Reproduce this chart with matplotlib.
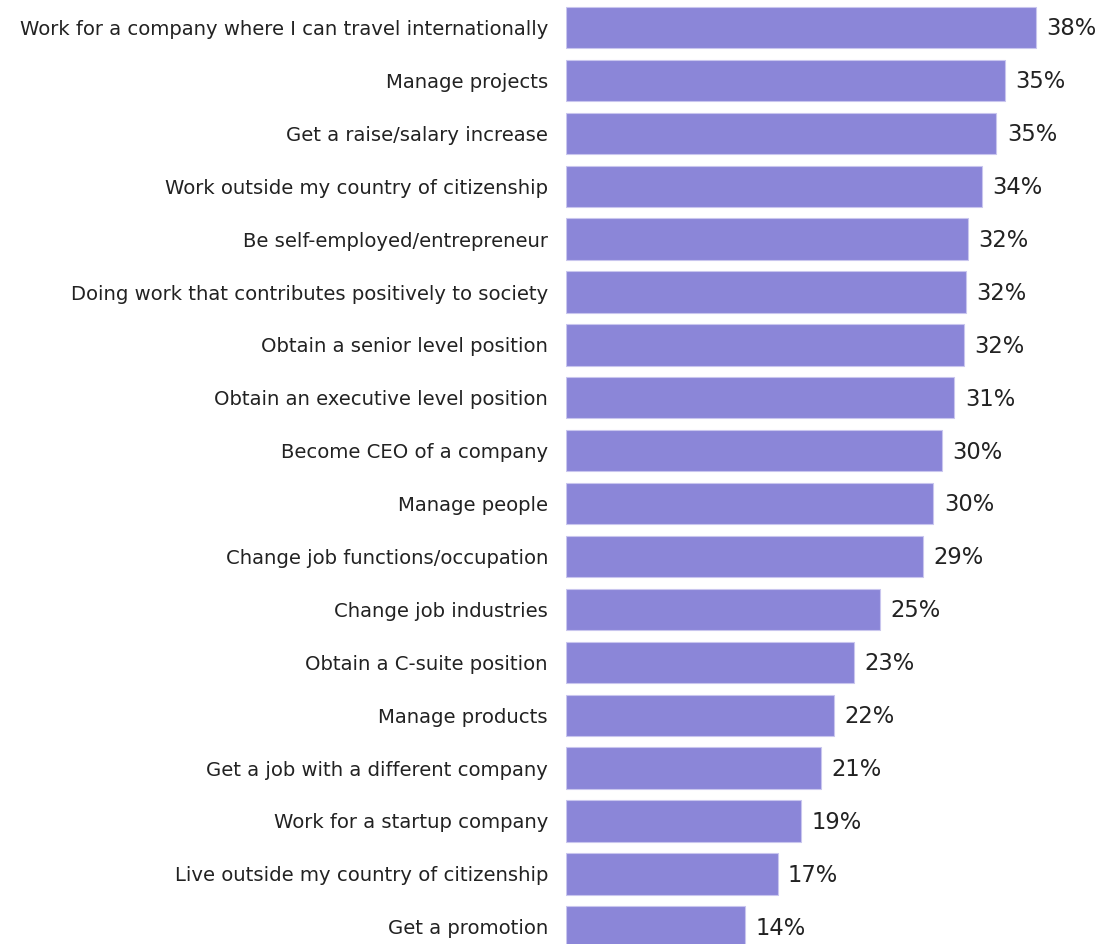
import matplotlib.pyplot as plt
import numpy as np

categories = [
    "Work for a company where I can travel internationally",
    "Manage projects",
    "Get a raise/salary increase",
    "Work outside my country of citizenship",
    "Be self-employed/entrepreneur",
    "Doing work that contributes positively to society",
    "Obtain a senior level position",
    "Obtain an executive level position",
    "Become CEO of a company",
    "Manage people",
    "Change job functions/occupation",
    "Change job industries",
    "Obtain a C-suite position",
    "Manage products",
    "Get a job with a different company",
    "Work for a startup company",
    "Live outside my country of citizenship",
    "Get a promotion",
]
# bar lengths (percent)
values = [38.0, 35.5, 34.8, 33.6, 32.5, 32.3, 32.2, 31.4, 30.4, 29.7,
          28.9, 25.4, 23.3, 21.7, 20.6, 19.0, 17.1, 14.5]
# percentages as printed next to the bars
pct_labels = [38, 35, 35, 34, 32, 32, 32, 31, 30, 30, 29, 25, 23, 22, 21, 19, 17, 14]

bar_color = "#8b86d8"
text_color = "#222222"

W, H = 1102, 944
fig = plt.figure(figsize=(W / 100, H / 100), dpi=100)
ax_left, ax_right = 566, 1100
ax = fig.add_axes([ax_left / W, 0, (ax_right - ax_left) / W, 1])

y = np.arange(len(categories))
ax.barh(y, values, height=0.78, color=bar_color, edgecolor="#c9c6ee", linewidth=0.8)

# 38% bar ends at ~1036 px
ax.set_xlim(0, 38.0 * (ax_right - ax_left) / (1036 - ax_left))
pitch = 52.9
ax.set_ylim(17 + (H - (27.5 + 17 * pitch)) / pitch, -27.5 / pitch)

ax.set_yticks(y)
ax.set_yticklabels(categories, fontsize=14.1, color=text_color)
ax.tick_params(axis="y", length=0, pad=13)
ax.set_xticks([])
for s in ax.spines.values():
    s.set_visible(False)

for yi, v, p in zip(y, values, pct_labels):
    ax.annotate(f"{p}%", (v, yi), xytext=(7.5, -1), textcoords="offset points",
                va="center", ha="left", fontsize=16.3, color=text_color)

fig.savefig("out.png", dpi=100)
